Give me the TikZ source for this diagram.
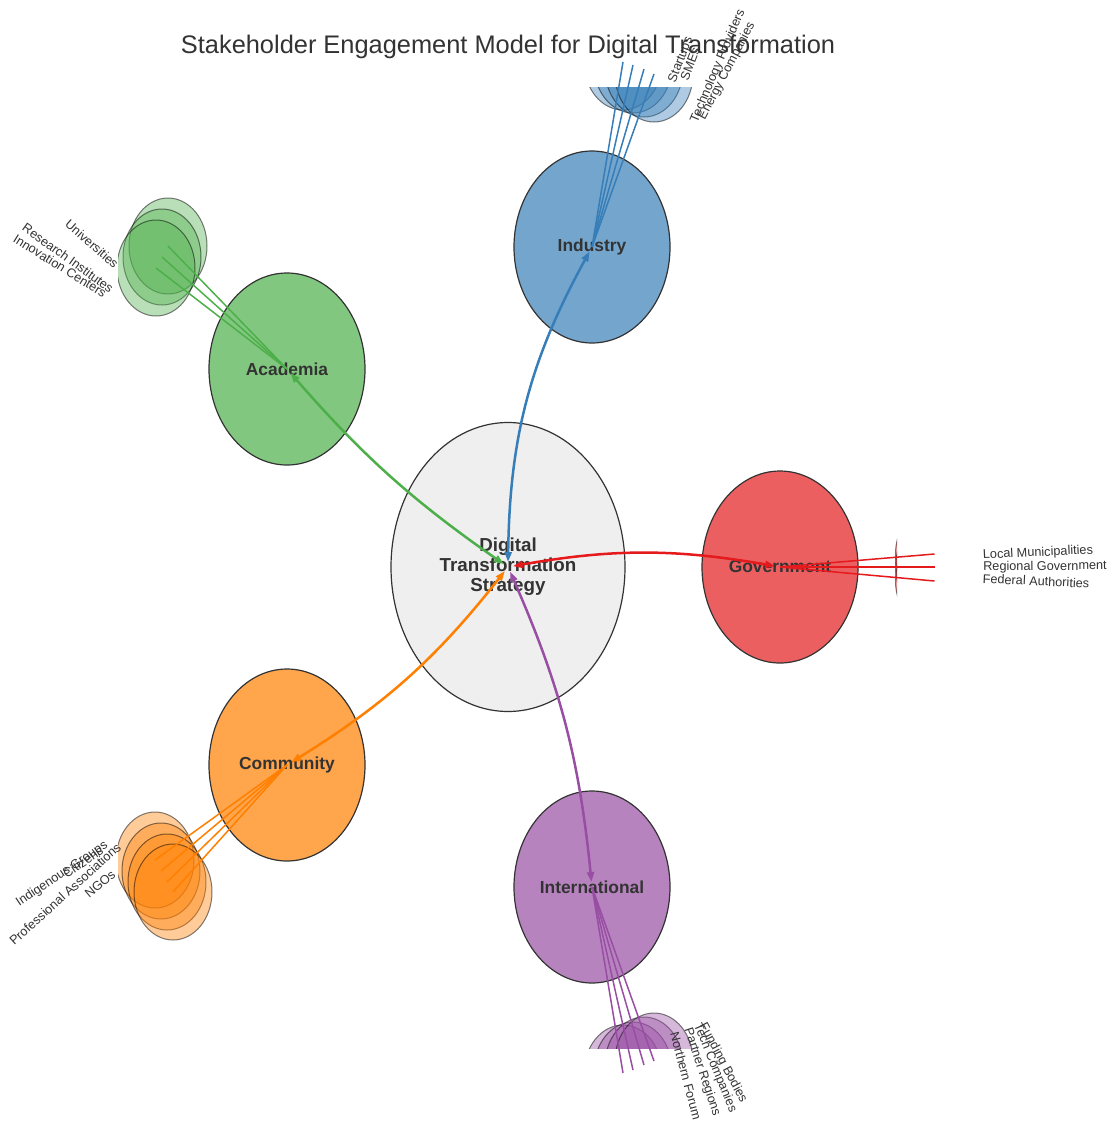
\documentclass[tikz,border=0pt]{standalone}
\usepackage{fontspec}
\setmainfont{Liberation Sans}
\usetikzlibrary{shapes.geometric,arrows.meta}
\definecolor{cBlue}{HTML}{377EB8}
\definecolor{cGreen}{HTML}{4DAF4A}
\definecolor{cRed}{HTML}{E41A1C}
\definecolor{cOrange}{HTML}{FF7F00}
\definecolor{cPurple}{HTML}{984EA3}
\definecolor{cCore}{HTML}{EFEFEF}
\definecolor{txt}{HTML}{333333}
\tikzset{
  mainnode/.style={ellipse, draw=txt, line width=1.2pt, inner sep=0pt,
    minimum width=156pt, minimum height=192pt,
    font=\fontsize{17.4}{20}\selectfont\bfseries, text=txt},
  subnode/.style={ellipse, draw=black, draw opacity=0.5, fill opacity=0.4,
    line width=1pt, inner sep=0pt, minimum width=78pt, minimum height=96pt},
  subline/.style={line width=1.5pt},
  mainedge/.style={line width=2.5pt,
    {Triangle[length=10pt,width=7pt]}-{Triangle[length=10pt,width=7pt]},
    shorten <=5pt, shorten >=5pt},
  sublabel/.style={font=\fontsize{12.7}{14}\selectfont, text=txt, inner sep=0pt},
}
\begin{document}
\begin{tikzpicture}[x=1pt,y=-1pt]
\useasboundingbox (0,0) rectangle (1113,1122);
\node[font=\fontsize{25.4}{30}\selectfont, text=txt] (title) at (508,47)
  {Stakeholder Engagement Model for Digital Transformation};

% sub-stakeholder centres
\coordinate (ind1) at (623,62);  \coordinate (ind2) at (633,65);
\coordinate (ind3) at (644,69);  \coordinate (ind4) at (654,74);
\coordinate (aca1) at (168,246); \coordinate (aca2) at (162,257);
\coordinate (aca3) at (156,268);
\coordinate (gov1) at (934.5,554); \coordinate (gov2) at (934.5,567);
\coordinate (gov3) at (934.5,581);
\coordinate (com1) at (155,860); \coordinate (com2) at (161,871);
\coordinate (com3) at (167,882); \coordinate (com4) at (173,892);
\coordinate (int1) at (623,1073); \coordinate (int2) at (633,1070);
\coordinate (int3) at (644,1065); \coordinate (int4) at (654,1061);

% sub-stakeholder discs (clipped by the plot area)
\begin{scope}
\clip (118,87) rectangle (897,1048);
\foreach \i in {1,...,4} \node[subnode, fill=cBlue] (ie\i) at (ind\i) {};
\foreach \i in {1,...,3} \node[subnode, fill=cGreen] (ae\i) at (aca\i) {};
\foreach \i in {1,...,3} \node[subnode, fill=cRed] (ge\i) at (gov\i) {};
\foreach \i in {1,...,4} \node[subnode, fill=cOrange] (ce\i) at (com\i) {};
\foreach \i in {1,...,4} \node[subnode, fill=cPurple] (ne\i) at (int\i) {};
\end{scope}

% main nodes
\node[mainnode, fill=cBlue!70!white] (ind) at (592,247) {Industry};
\node[mainnode, fill=cGreen!70!white] (aca) at (287,369) {Academia};
\node[mainnode, fill=cRed!70!white] (gov) at (780,567) {Government};
\node[mainnode, fill=cOrange!70!white] (com) at (287,765) {Community};
\node[mainnode, fill=cPurple!70!white] (int) at (592,887) {International};
\node[mainnode, minimum width=234pt, minimum height=289pt, fill=cCore,
  align=center, font=\fontsize{18.8}{20}\selectfont\bfseries] (dts) at (508,567)
  {Digital\\Transformation\\Strategy};

% sub-lines
\foreach \i in {1,...,4} \draw[subline, cBlue] (ind.center) -- (ind\i);
\foreach \i in {1,...,3} \draw[subline, cGreen] (aca.center) -- (aca\i);
\foreach \i in {1,...,3} \draw[subline, cRed] (gov.center) -- (gov\i);
\foreach \i in {1,...,4} \draw[subline, cOrange] (com.center) -- (com\i);
\foreach \i in {1,...,4} \draw[subline, cPurple] (int.center) -- (int\i);

% main edges
\draw[mainedge, cBlue] (ind.center) to[bend right=14] (dts.center);
\draw[mainedge, cGreen] (aca.center) to[bend right=7] (dts.center);
\draw[mainedge, cRed] (gov.center) to[bend right=10] (dts.center);
\draw[mainedge, cOrange] (com.center) to[bend right=10] (dts.center);
\draw[mainedge, cPurple] (int.center) to[bend right=9] (dts.center);

% sub-labels
\node[sublabel, rotate=69] (l-ind1) at (681,60) {Startups};
\node[sublabel, rotate=69] (l-ind2) at (690,64) {SMEs};
\node[sublabel, rotate=67] (l-ind3) at (718,66) {Technology Providers};
\node[sublabel, rotate=62.5] (l-ind4) at (727,71) {Energy Companies};

\node[sublabel, rotate=-41] (l-aca1) at (92,244) {Universities};
\node[sublabel, rotate=-36] (l-aca2) at (68,258) {Research Institutes};
\node[sublabel, rotate=-32] (l-aca3) at (60,266) {Innovation Centers};

\node[sublabel, rotate=2.6] (l-gov1) at (1038,553) {Local Municipalities};
\node[sublabel, rotate=0.5] (l-gov2) at (1045,567) {Regional Government};
\node[sublabel, rotate=-2.6] (l-gov3) at (1036,581) {Federal Authorities};

\node[sublabel, rotate=34] (l-com1) at (62,874) {Indigenous Groups};
\node[sublabel, rotate=34] (l-com2) at (83,862) {Citizens};
\node[sublabel, rotate=42] (l-com3) at (65,894) {Professional Associations};
\node[sublabel, rotate=40] (l-com4) at (100,884) {NGOs};

\node[sublabel, rotate=-62] (l-int1) at (723,1063) {Funding Bodies};
\node[sublabel, rotate=-67.5] (l-int2) at (715,1068) {Tech Companies};
\node[sublabel, rotate=-71.5] (l-int3) at (702,1072) {Partner Regions};
\node[sublabel, rotate=-75] (l-int4) at (686,1076) {Northern Forum};
\end{tikzpicture}
\end{document}
